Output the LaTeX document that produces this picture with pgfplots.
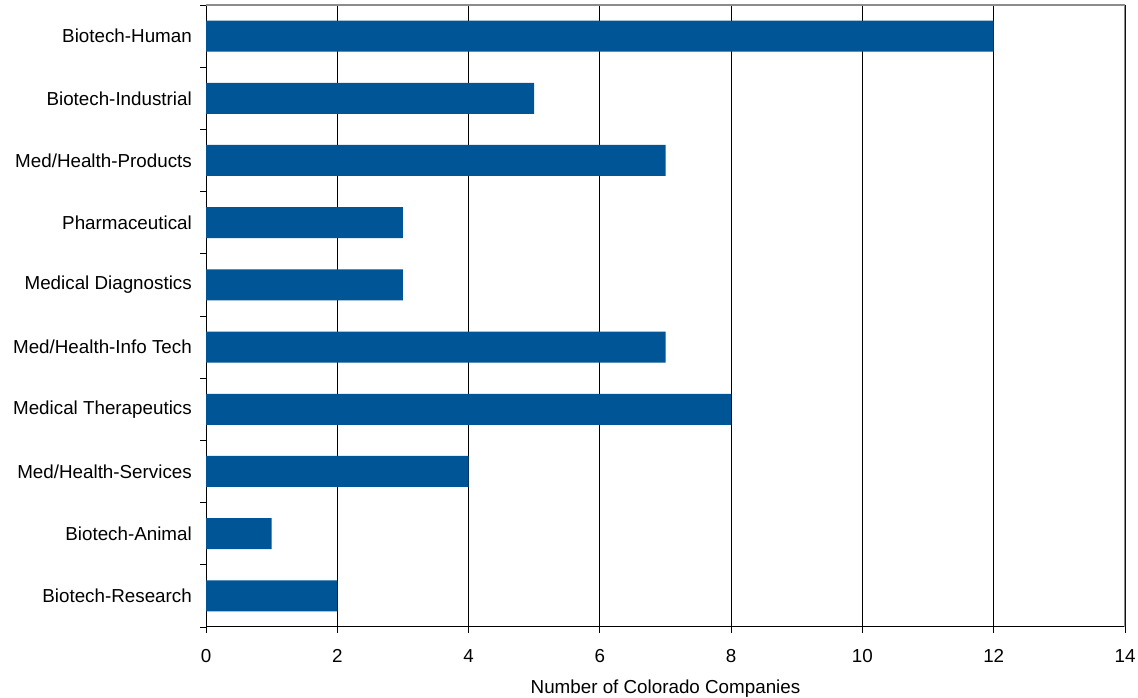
\documentclass[border=0pt]{standalone}
\usepackage{fontspec}
\setmainfont{Liberation Sans}
\usepackage{pgfplots}
\pgfplotsset{compat=1.18}
\definecolor{barblue}{RGB}{0,85,150}
\begin{document}
\begin{tikzpicture}[x=1pt,y=1pt]
\begin{axis}[
  at={(206pt,71pt)}, anchor=south west,
  scale only axis, width=919pt, height=622pt,
  xbar, bar width=31pt,
  xmin=0, xmax=14, ymin=-0.5, ymax=9.5,
  xtick={0,2,...,14},
  ytick={-0.5,0.5,...,9.5},
  yticklabel=\empty,
  extra y ticks={0,...,9},
  extra y tick labels={Biotech-Research,Biotech-Animal,Med/Health-Services,Medical Therapeutics,Med/Health-Info Tech,Medical Diagnostics,Pharmaceutical,Med/Health-Products,Biotech-Industrial,Biotech-Human},
  extra y tick style={tick style={draw=none}, grid=none},
  major tick length=6pt,
  tick align=outside,
  tick style={black, line width=0.8pt},
  axis x line*=bottom, axis y line*=left,
  axis line style={black, line width=1pt, -},
  xmajorgrids, ymajorgrids=false,
  major grid style={black, line width=0.8pt},
  tick label style={font=\fontsize{18.8}{22}\selectfont},
  label style={font=\fontsize{18.8}{22}\selectfont},
  /pgf/number format/assume math mode=true,
  yticklabel style={inner sep=0pt, xshift=-8pt},
  xticklabel style={inner sep=0pt, yshift=-16pt},
  xlabel={Number of Colorado Companies},
  xlabel style={yshift=-14pt},
]
\addplot[fill=barblue, draw=none] coordinates {
  (2,0) (1,1) (4,2) (8,3) (7,4) (3,5) (3,6) (7,7) (5,8) (12,9)
};
\draw[gray!90, line width=1.5pt] (rel axis cs:0,1) -- (rel axis cs:1,1) -- (rel axis cs:1,0);
\end{axis}
\pgfresetboundingbox
\useasboundingbox (0,0) rectangle (1138pt,698pt);
\end{tikzpicture}
\end{document}
